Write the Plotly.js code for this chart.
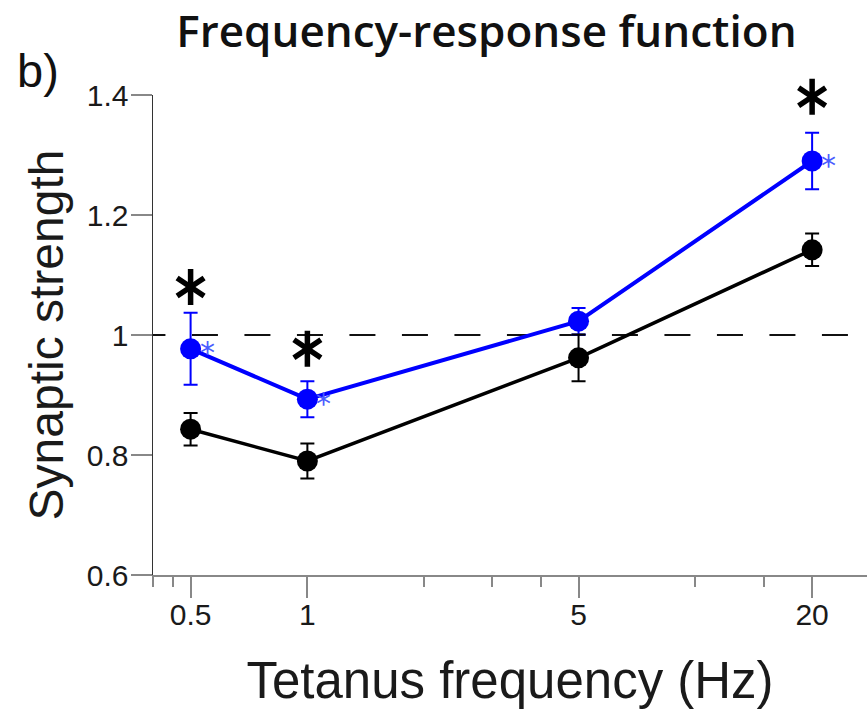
<!DOCTYPE html>
<html>
<head>
<meta charset="utf-8">
<script src="https://cdn.plot.ly/plotly-3.0.1.min.js"></script>
<style>html,body{margin:0;padding:0;background:#fff}#chart{width:867px;height:709px}</style>
</head>
<body>
<div id="chart"></div>
<script>
// ---- data ----
const freqs = [0.5, 1, 5, 20];
const controlMean = [0.843, 0.790, 0.962, 1.142];
const controlErr = [0.027, 0.029, 0.039, 0.027];
const treatMean = [0.977, 0.893, 1.023, 1.290];
const treatErr = [0.060, 0.030, 0.022, 0.047];
const sigFreqs = [0.5, 1, 20];
const sigY = [1.08, 0.977, 1.397];
const smallSigFreqs = [0.5, 1, 20];
const smallSigY = [0.977, 0.893, 1.290];
const xTickVals = [0.5, 1, 5, 20];
const xTickText = ['0.5', '1', '5', '20'];
const xMinorVals = [0.4, 0.45, 2, 3, 4, 10, 15];
const yTickVals = [0.6, 0.8, 1, 1.2, 1.4];
const yTickText = ['0.6', '0.8', '1', '1.2', '1.4'];
const refLevel = 1;

const BLUE = '#0000ff';
const tickFont = {family: 'Liberation Sans, Arial, sans-serif', size: 30, color: '#1a1a1a'};

const starMarker = (sym) => ({
  x: sigFreqs, y: sigY, type: 'scatter', mode: 'markers', cliponaxis: false,
  marker: {symbol: sym, size: 22.5, color: '#000', line: {color: '#000', width: 5.5}},
  hoverinfo: 'skip', showlegend: false
});

const traces = [
  {
    x: freqs, y: treatMean, type: 'scatter', mode: 'lines+markers',
    line: {color: BLUE, width: 4},
    marker: {color: BLUE, size: 21},
    error_y: {type: 'data', array: treatErr, visible: true, color: BLUE, thickness: 2, width: 7},
    hoverinfo: 'skip', showlegend: false
  },
  {
    x: freqs, y: controlMean, type: 'scatter', mode: 'lines+markers',
    line: {color: '#000', width: 3.5},
    marker: {color: '#000', size: 21},
    error_y: {type: 'data', array: controlErr, visible: true, color: '#000', thickness: 2, width: 7},
    hoverinfo: 'skip', showlegend: false
  },
  starMarker('y-up-open'),
  starMarker('y-down-open')
];

const annotations = [];
smallSigFreqs.forEach((f, i) => annotations.push({
  x: Math.log10(f), y: smallSigY[i], xref: 'x', yref: 'y',
  text: '*', showarrow: false, xanchor: 'left', yanchor: 'middle',
  xshift: 7, yshift: -4,
  font: {family: 'DejaVu Sans', size: 30, color: '#4a5cff'}
}));
annotations.push({
  text: 'b)', xref: 'paper', yref: 'paper', x: -0.193, y: 1.05,
  xanchor: 'left', yanchor: 'middle', showarrow: false,
  font: {family: 'Liberation Sans, Arial, sans-serif', size: 47, color: '#111'}
});

const layout = {
  width: 867, height: 709,
  margin: {l: 153, r: 0, t: 95, b: 134},
  paper_bgcolor: '#fff', plot_bgcolor: '#fff',
  title: {
    text: 'Frequency-response function',
    font: {family: 'Open Sans, sans-serif', size: 44, weight: 600, color: '#111'},
    xref: 'paper', x: 0.467, xanchor: 'center',
    yref: 'container', y: 0.955, yanchor: 'middle'
  },
  xaxis: {
    type: 'log', range: [Math.log10(0.4), Math.log10(27.7)],
    tickmode: 'array', tickvals: xTickVals, ticktext: xTickText,
    ticks: 'outside', ticklen: 21, tickwidth: 2, tickcolor: '#888',
    minor: {tickmode: 'array', tickvals: xMinorVals, ticks: 'outside', ticklen: 10, tickwidth: 2, tickcolor: '#888', showgrid: false},
    showline: true, linecolor: '#888', linewidth: 2,
    showgrid: false, zeroline: false,
    tickfont: tickFont, ticklabelstandoff: -9,
    title: {text: 'Tetanus frequency (Hz)', font: {family: 'Liberation Sans, Arial, sans-serif', size: 51, color: '#1a1a1a'}, standoff: 35},
    automargin: false, fixedrange: true
  },
  yaxis: {
    range: [0.6, 1.4],
    tickmode: 'array', tickvals: yTickVals, ticktext: yTickText,
    ticks: 'outside', ticklen: 21, tickwidth: 1.5, tickcolor: '#888',
    showline: true, linecolor: '#333', linewidth: 1.5,
    showgrid: false, zeroline: false,
    tickfont: tickFont, ticklabelstandoff: -4,
    title: {text: 'Synaptic strength', font: {family: 'Liberation Sans, Arial, sans-serif', size: 48, color: '#1a1a1a'}, standoff: 8},
    automargin: false, fixedrange: true
  },
  shapes: [{
    type: 'line', xref: 'paper', yref: 'y', x0: -0.019, x1: 1, y0: refLevel, y1: refLevel,
    line: {color: '#111', width: 1.8, dash: '26px,26.5px'}, layer: 'below'
  }],
  annotations: annotations
};

Plotly.newPlot('chart', traces, layout, {displayModeBar: false, staticPlot: true});
</script>
</body>
</html>
